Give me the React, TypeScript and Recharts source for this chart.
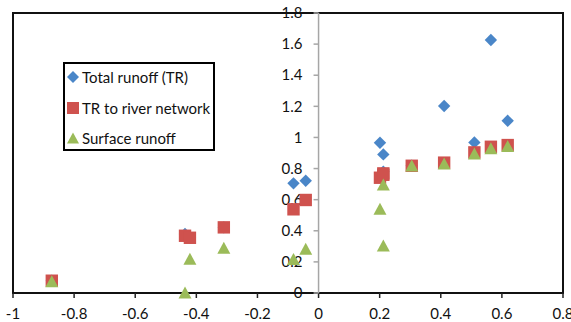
import React from 'react';
import {
  ScatterChart,
  Scatter,
  XAxis,
  YAxis,
  ReferenceLine,
  ReferenceDot,
  ReferenceArea,
  Legend,
} from 'recharts';

// Runoff ratios per location (x) for three runoff components
const locationX = [-0.873, -0.437, -0.421, -0.31, -0.082, -0.042, 0.201, 0.212, 0.212, 0.305, 0.411, 0.51, 0.564, 0.619];
const totalRunoff = [0.079, 0.38, 0.355, 0.422, 0.705, 0.722, 0.966, 0.891, 0.78, 0.818, 1.202, 0.968, 1.626, 1.107];
const riverNetworkRunoff = [0.079, 0.368, 0.355, 0.422, 0.538, 0.598, 0.741, 0.769, 0.76, 0.818, 0.838, 0.904, 0.94, 0.951];
const surfaceRunoff = [0.073, 0, 0.217, 0.287, 0.216, 0.281, 0.538, 0.694, 0.302, 0.816, 0.829, 0.893, 0.927, 0.941];

const xTicks = [-1, -0.8, -0.6, -0.4, -0.2, 0, 0.2, 0.4, 0.6, 0.8];
const yTicks = [0, 0.2, 0.4, 0.6, 0.8, 1, 1.2, 1.4, 1.6, 1.8];
const yTickLabels = ['0', '0.2', '0.4', '0.6', '0.8', '1', '1.2', '1.4', '1.6', '1.8'];

const seriesNames = ['Total runoff (TR)', 'TR to river network', 'Surface runoff'];
const seriesColors = ['#4A86C8', '#CF524E', '#9BBB59'];

const FONT = 'Lato, "Open Sans", sans-serif';

const toPoints = (ys: number[]) => locationX.map((x, i) => ({ x, y: ys[i] }));

const DiamondMark = (props: any) => {
  const { cx, cy, fill } = props;
  const h = 6.2;
  return <polygon points={`${cx},${cy - h} ${cx + h},${cy} ${cx},${cy + h} ${cx - h},${cy}`} fill={fill} />;
};

const SquareMark = (props: any) => {
  const { cx, cy, fill } = props;
  return <rect x={cx - 6.2} y={cy - 6.2} width={12.4} height={12.4} fill={fill} />;
};

const TriangleMark = (props: any) => {
  const { cx, cy, fill } = props;
  return <polygon points={`${cx},${cy - 6.5} ${cx + 6.5},${cy + 5.5} ${cx - 6.5},${cy + 5.5}`} fill={fill} />;
};

const LegendIcon = ({ index, color }: { index: number; color: string }) => (
  <svg width={14} height={14} style={{ display: 'block' }}>
    {index === 0 && <polygon points="7,1 13,7 7,13 1,7" fill={color} />}
    {index === 1 && <rect x={1} y={1} width={12} height={12} fill={color} />}
    {index === 2 && <polygon points="7,1.5 13,12.5 1,12.5" fill={color} />}
  </svg>
);

const LegendBox = () => (
  <div
    style={{
      position: 'relative',
      width: 152,
      height: 89,
      boxSizing: 'border-box',
      border: '2px solid #000',
      background: '#fff',
      fontFamily: FONT,
      fontSize: 15,
      color: '#111',
    }}
  >
    {seriesNames.map((name, i) => (
      <div
        key={name}
        style={{
          position: 'absolute',
          left: 1,
          top: 5 + i * 30.5,
          height: 16,
          display: 'flex',
          alignItems: 'center',
          whiteSpace: 'nowrap',
        }}
      >
        <LegendIcon index={i} color={seriesColors[i]} />
        <span style={{ marginLeft: 2 }}>{name}</span>
      </div>
    ))}
  </div>
);

const YTickMark = (label: string) => (props: any) => {
  const { cx, cy } = props;
  return (
    <g>
      <line x1={cx - 5} y1={cy} x2={cx} y2={cy} stroke="#A6A6A6" strokeWidth={1.5} />
      <text
        x={cx - 16}
        y={cy}
        dy="0.35em"
        textAnchor="end"
        fontFamily={FONT}
        fontSize={15}
        fill="#111"
      >
        {label}
      </text>
    </g>
  );
};

export default function App() {
  return (
    <div style={{ position: 'absolute', left: 0, top: 0, width: 571, height: 322, background: '#fff' }}>
      <ScatterChart width={571} height={322} margin={{ top: 13, right: 8, left: 13, bottom: 0 }}>
        <XAxis
          type="number"
          dataKey="x"
          domain={[-1, 0.8]}
          ticks={xTicks}
          interval={0}
          height={29}
          axisLine={false}
          tickLine={{ stroke: '#222', strokeWidth: 1.5 }}
          tickSize={5}
          tickMargin={10}
          tick={{ fontFamily: FONT, fontSize: 15, fill: '#111' }}
        />
        <YAxis type="number" dataKey="y" domain={[0, 1.8]} hide />
        <ReferenceArea
          x1={-1}
          x2={0.8}
          y1={0}
          y2={1.8}
          fill="none"
          fillOpacity={0}
          stroke="#111"
          strokeWidth={2}
        />
        <ReferenceLine x={0} stroke="#A6A6A6" strokeWidth={1.5} />
        {yTicks.map((v, i) => (
          <ReferenceDot key={v} x={0} y={v} shape={YTickMark(yTickLabels[i])} />
        ))}
        <Legend
          layout="vertical"
          align="center"
          verticalAlign="middle"
          content={() => <LegendBox />}
          wrapperStyle={{ left: 63, top: 62, width: 152, height: 89 }}
        />
        <Scatter
          name={seriesNames[0]}
          data={toPoints(totalRunoff)}
          fill={seriesColors[0]}
          shape={DiamondMark}
          isAnimationActive={false}
        />
        <Scatter
          name={seriesNames[1]}
          data={toPoints(riverNetworkRunoff)}
          fill={seriesColors[1]}
          shape={SquareMark}
          isAnimationActive={false}
        />
        <Scatter
          name={seriesNames[2]}
          data={toPoints(surfaceRunoff)}
          fill={seriesColors[2]}
          shape={TriangleMark}
          isAnimationActive={false}
        />
      </ScatterChart>
    </div>
  );
}
